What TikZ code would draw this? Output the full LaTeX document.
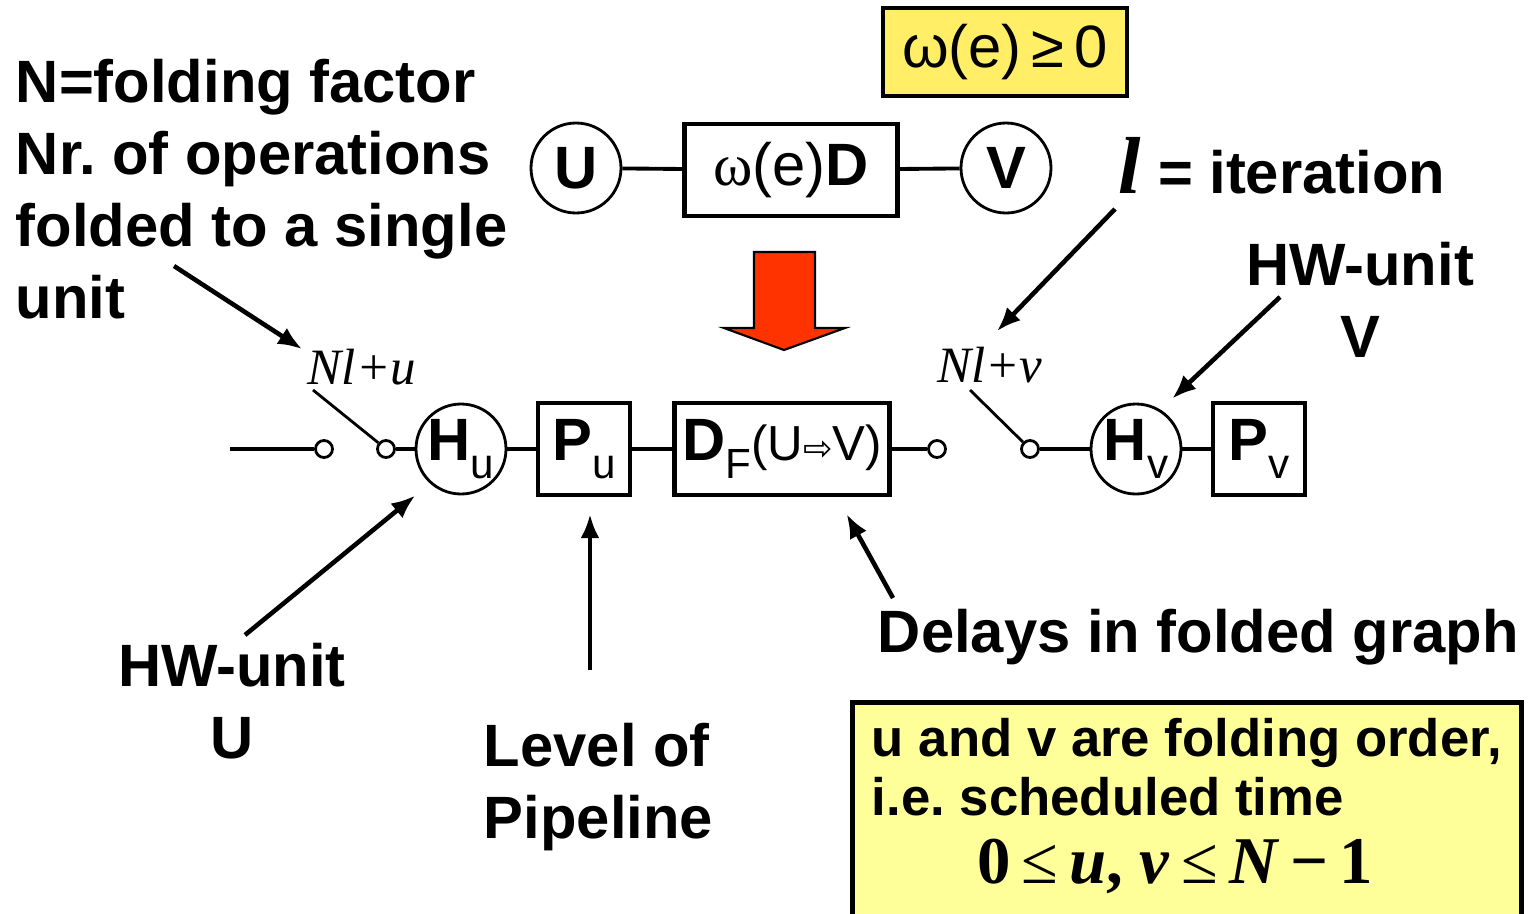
\documentclass[tikz,border=0pt]{standalone}
\usepackage{fontspec}
\setmainfont{Liberation Sans}
\newfontfamily\timesfont{Liberation Serif}
\newfontfamily\symfont{DejaVu Sans}
\usetikzlibrary{positioning,arrows.meta,calc}
\definecolor{boxyellow}{HTML}{FFEE66}
\definecolor{paleyellow}{HTML}{FFFF99}
\definecolor{arrowred}{HTML}{FF3300}
\newcommand\lowsub[1]{\raisebox{-0.55ex}{\fontsize{12}{12}\selectfont\mdseries #1}}
\frenchspacing

\begin{document}
\begin{tikzpicture}[
  x=0.1mm, y=-0.1mm,
  line width=1.1pt,
  every node/.style={font=\fontsize{17}{20.5}\selectfont\bfseries},
  unit/.style={draw, circle, line width=0.8pt, minimum size=9mm, inner sep=0pt},
  reg/.style={draw, rectangle, line width=1.2pt, minimum height=9.2mm, inner sep=0pt},
  tap/.style={draw, circle, line width=0.8pt, minimum size=1.7mm, inner sep=0pt, fill=white},
  pointer/.style={-{Latex[length=2.4mm,width=1.9mm]}, line width=1.3pt},
  sel/.style={inner sep=0pt, font=\timesfont\itshape\fontsize{14.5}{14.5}\selectfont},
  txt/.style={inner sep=0pt, align=left}
]
\useasboundingbox (0,0) rectangle (1528,914);

% condition
\node[draw, fill=boxyellow, line width=1.4pt, minimum width=24.4mm, minimum height=8.8mm,
      font=\fontsize{17}{17}\selectfont] (cond) at (1005,52) {ω(e)\,≥\,0};

% original edge
\node[unit] (U) at (576,168) {U};
\node[reg, minimum width=21.3mm] (wD) at (791,170) {{\mdseries{\timesfont ω}(e)}D};
\node[unit] (V) at (1006,168) {V};
\draw (U) -- (wD) -- (V);

% fold arrow
\filldraw[fill=arrowred, line width=0.6pt]
  (754,252) -- (815,252) -- (815,328) -- (845,328) -- (784,350)
  -- (724,328) -- (754,328) -- cycle;

% folded edge
\coordinate (in) at (230,449);
\node[tap] (t1) at (324,449) {};
\node[tap] (t2) at (386,449) {};
\node[unit] (Hu) at (461,449) {H\lowsub{u}};
\node[reg, minimum width=9.2mm] (Pu) at (584,449) {P\lowsub{u}};
\node[reg, minimum width=21.5mm] (DF) at (782,449)
  {D\lowsub{F}{\mdseries\fontsize{14}{14}\selectfont(U{\symfont\fontsize{10}{10}\selectfont ⇨}V)}};
\node[tap] (t3) at (937,449) {};
\node[tap] (t4) at (1030,449) {};
\node[unit] (Hv) at (1136,449) {H\lowsub{v}};
\node[reg, minimum width=9.2mm] (Pv) at (1259,449) {P\lowsub{v}};
\draw (in) -- (t1);
\draw (t2) -- (Hu) -- (Pu) -- (DF) -- (t3);
\draw (t4) -- (Hv) -- (Pv);

% switches
\node[sel] (selu) at (362,367) {Nl+u};
\node[sel] (selv) at (990,365) {Nl+v};
\coordinate (armu) at (313,390);
\coordinate (armv) at (970,390);
\draw[line width=0.8pt] (armu) -- (t2);
\draw[line width=0.8pt] (armv) -- (t4);

% labels
\node[txt, anchor=north west] (fold) at (14,57)
  {N=folding factor\\Nr. of operations\\folded to a single\\unit};
\coordinate (foldtail) at (174,266);
\draw[pointer] (foldtail) -- ([shift={(-4,2)}]selu.north west);

\node[anchor=base west, inner sep=0pt] (iter) at (1117,193)
  {{\timesfont\itshape\bfseries\fontsize{23}{23}\selectfont l} = iteration};
\draw[pointer] ([shift={(-2,16)}]iter.base west) -- ([shift={(7,-14)}]selv.north);

\node[txt, align=center, anchor=north] (hwv) at (1360,240) {HW-unit\\V};
\coordinate (hwvtail) at (1280,297);
\draw[pointer, shorten >=1.6mm] (hwvtail) -- (Hv.58);

\node[txt, align=center, anchor=north] (hwu) at (232,641) {HW-unit\\U};
\draw[pointer, shorten >=1.9mm] ([shift={(13,-6)}]hwu.north) -- (Hu.228);

\node[txt, anchor=north west] (lvl) at (482,721) {Level of\\Pipeline};
\coordinate (lvltail) at (590,670);
\draw[pointer, shorten >=1.7mm] (lvltail) -- (lvltail |- Pu.south);

\node[anchor=base west, inner sep=0pt] (dly) at (876,652) {Delays in folded graph};
\draw[pointer] ([shift={(17,-54)}]dly.base west) -- ([shift={(-45,17)}]DF.south east);

% folding order
\node[draw, fill=paleyellow, line width=1.3pt, anchor=north west,
      minimum width=66.9mm, minimum height=23.5mm] (note) at (850,700) {};
\node[txt, anchor=north west, font=\fontsize{15}{17}\selectfont\bfseries] (ord) at (870,716)
  {u and v are folding order,\\i.e. scheduled time};
\node[inner sep=0pt, font=\timesfont\bfseries\fontsize{19}{19}\selectfont] (rng) at (1175,866)
  {0\,{\mdseries≤}\,\textit{u}, \textit{v}\,{\mdseries≤}\,\textit{N}\,−\,1};
\end{tikzpicture}
\end{document}
